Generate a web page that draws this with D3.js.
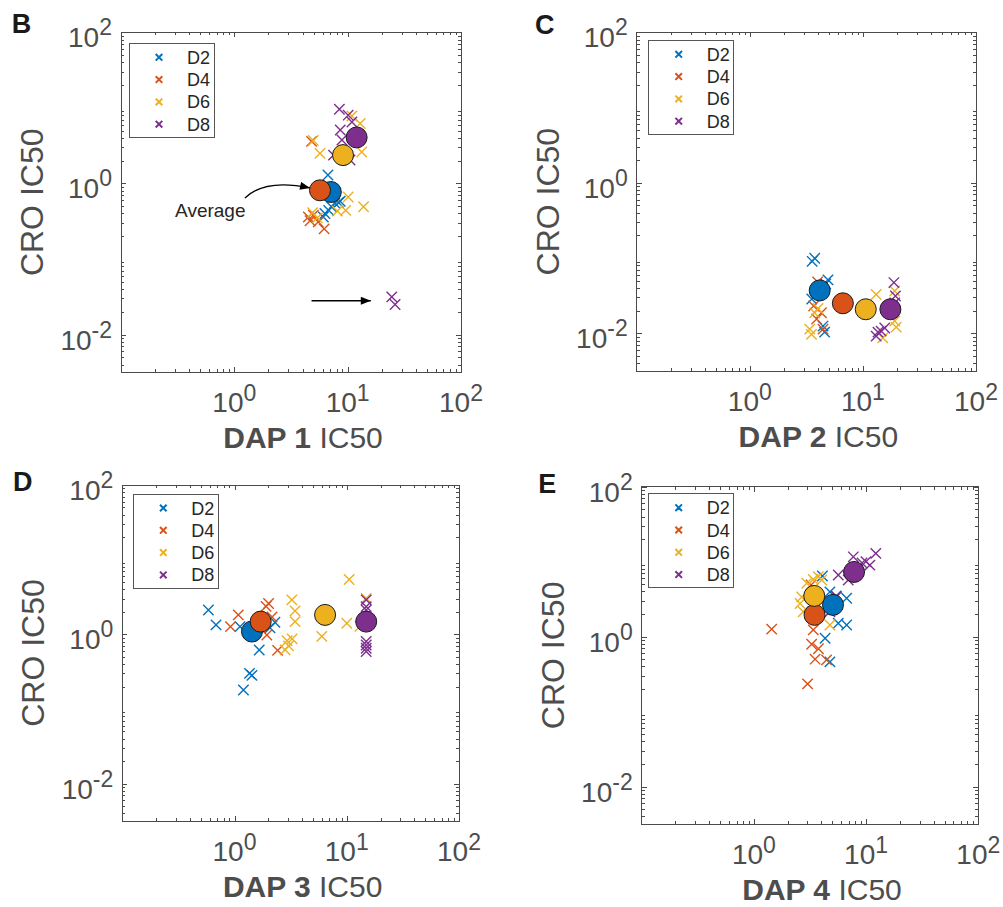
<!DOCTYPE html>
<html><head><meta charset="utf-8">
<script src="https://cdn.jsdelivr.net/npm/d3@7"></script>
<style>body{margin:0;background:#fff}</style>
</head><body><svg id="c" width="1003" height="907"></svg>
<script>
// ---------------- data ----------------
const seriesNames = ["D2", "D4", "D6", "D8"];
const seriesColors = ["#0072BD", "#D95319", "#EDB120", "#7E2F8E"];
const panelLetters = ["B", "C", "D", "E"];
const xLabelBold = ["DAP 1", "DAP 2", "DAP 3", "DAP 4"];
const xMajorTicks = [1, 10, 100];
const xTickExp = ["0", "1", "2"];
const yMajorTicks = [0.01, 1, 100];
const yTickExp = ["-2", "0", "2"];

// Panel B : DAP 1 vs CRO  [DAP IC50, CRO IC50]
const dap1_D2 = [[6.7,1.29],[8.6,0.58],[7.2,0.49],[6.8,0.44],[6.3,0.40],[6.1,0.36],[7.7,0.55],[8.3,0.56]];
const dap1_D4 = [[4.8,3.6],[4.66,0.32],[4.98,0.38],[6.2,0.25],[5.5,0.31],[4.5,0.36]];
const dap1_D6 = [[4.98,3.7],[5.7,2.5],[10.9,7.8],[12.9,6.2],[13.3,2.6],[10.1,0.66],[9.6,0.44],[8.1,0.43],[13.8,0.49],[4.9,0.41],[5.4,0.35]];
const dap1_D8 = [[8.45,9.6],[10.1,8.0],[10.9,6.5],[8.6,5.1],[8.9,3.75],[7.5,2.37],[10.5,2.04],[24.5,0.0315],[26.2,0.025]];
const dap1_avg = [[7.1,0.77],[5.7,0.81],[9.1,2.37],[12.0,4.06]];

// Panel C : DAP 2 vs CRO
const dap2_D2 = [[3.56,0.0906],[3.75,0.0994],[4.91,0.0514],[4.69,0.0454],[4.44,0.0125],[4.59,0.0104],[3.53,0.0286]];
const dap2_D4 = [[3.98,0.0483],[3.67,0.0231],[4.30,0.0188],[4.44,0.0114],[3.90,0.0155]];
const dap2_D6 = [[3.39,0.0114],[3.51,0.0097],[4.01,0.0214],[3.75,0.0187],[13.1,0.0329],[19.1,0.0366],[19.1,0.0146],[19.7,0.0121],[15.0,0.0087]];
const dap2_D8 = [[18.8,0.0473],[19.4,0.0314],[19.1,0.0253],[13.1,0.0092],[14.5,0.0107],[15.6,0.0118],[13.6,0.0104]];
const dap2_avg = [[4.15,0.0372],[6.65,0.0251],[10.6,0.0209],[17.5,0.0209]];

// Panel D : DAP 3 vs CRO
const dap3_D2 = [[0.585,2.12],[0.684,1.34],[1.12,1.27],[1.20,0.180],[1.36,0.300],[1.43,0.282],[1.66,0.618],[2.29,1.45],[2.07,1.22]];
const dap3_D4 = [[1.08,1.82],[0.92,1.27],[1.91,2.37],[2.01,2.59],[1.94,0.98],[2.42,0.61],[2.16,1.71]];
const dap3_D6 = [[3.24,2.89],[3.46,2.06],[3.46,1.48],[2.94,0.82],[3.26,0.87],[2.82,0.62],[3.03,0.70],[5.99,0.94],[10.0,1.41],[10.5,5.43],[14.9,3.03],[13.1,1.28]];
const dap3_D8 = [[14.9,2.89],[14.9,2.35],[14.9,2.12],[14.9,0.80],[14.9,0.72],[14.9,0.65],[14.9,0.59]];
const dap3_avg = [[1.43,1.09],[1.71,1.48],[6.41,1.82],[14.9,1.48]];

// Panel E : DAP 4 vs CRO
const dap4_D2 = [[4.08,6.44],[4.76,3.95],[6.71,3.25],[5.65,1.51],[6.71,1.43],[4.31,0.95],[4.76,0.46],[5.4,3.49]];
const dap4_D4 = [[1.44,1.26],[3.38,1.23],[3.27,0.79],[3.76,0.69],[3.51,0.50],[4.44,0.49],[3.01,0.234],[3.23,4.88]];
const dap4_D6 = [[2.96,5.15],[3.38,5.80],[3.75,6.31],[4.02,5.70],[2.67,3.38],[2.58,2.77],[2.75,2.15],[4.76,1.43]];
const dap4_D8 = [[7.69,11.6],[12.2,12.9],[9.97,10.0],[10.8,9.0],[9.2,9.6],[5.65,6.65],[6.93,5.70],[5.46,3.41],[4.76,2.15]];
const dap4_avg = [[5.07,2.65],[3.47,1.95],[3.45,3.49],[7.81,7.29]];

// annotations in panel B (data coordinates)
const avgArrow = [[1.24,0.64],[1.87,1.17],[4.66,0.87]];
const outlierArrow = [[4.8,0.028],[16,0.028]];
const avgLabelPos = [0.30, 0.36];
const avgLabelText = "Average";

// ---------------- layout ----------------
const xDomain = [0.1, 100];
const yDomain = [Math.pow(10, -2.5), 100];
const boxes = [[121,32.3,340,340],[636.7,32.3,339.3,338.7],[122.3,485,336.7,336],[641.7,486.7,336.6,337.3]];
const legendOff = [[8,11],[12,8],[11,9],[7,7]];
const letterPos = [[11.7,32.7],[535,34],[13,490.7],[538.3,493.3]];
const FONT = "'Liberation Sans', Arial, Helvetica, sans-serif";
const AXC = "#4a4a4a", TXC = "#4d4d4d";

const panels = [
  {series:[dap1_D2,dap1_D4,dap1_D6,dap1_D8], avg:dap1_avg},
  {series:[dap2_D2,dap2_D4,dap2_D6,dap2_D8], avg:dap2_avg},
  {series:[dap3_D2,dap3_D4,dap3_D6,dap3_D8], avg:dap3_avg},
  {series:[dap4_D2,dap4_D4,dap4_D6,dap4_D8], avg:dap4_avg}
];

const svg = d3.select("#c");
svg.append("defs").append("marker").attr("id","ah")
  .attr("viewBox","0 0 10 8").attr("refX",10).attr("refY",4)
  .attr("markerWidth",11).attr("markerHeight",8).attr("markerUnits","userSpaceOnUse")
  .attr("orient","auto")
  .append("path").attr("d","M0,0 L10,4 L0,8 Z").attr("fill","#000");

const isPow10 = v => Math.abs(Math.log10(v) - Math.round(Math.log10(v))) < 1e-6;
const xMark = s => `M${-s},${-s}L${s},${s}M${-s},${s}L${s},${-s}`;

panels.forEach((p, pi) => {
  const [x0, y0, w, h] = boxes[pi];
  const x = d3.scaleLog().domain(xDomain).range([x0, x0 + w]);
  const y = d3.scaleLog().domain(yDomain).range([y0 + h, y0]);
  const g = svg.append("g");

  // box
  g.append("rect").attr("x", x0).attr("y", y0).attr("width", w).attr("height", h)
    .attr("fill", "#fff").attr("stroke", AXC).attr("stroke-width", 1).attr("shape-rendering","crispEdges");

  // ticks (inward, all four sides)
  const xMinor = x.ticks().filter(v => !isPow10(v));
  const yMinor = y.ticks().filter(v => !isPow10(v));
  const axes = [
    [d3.axisBottom(x), `translate(0,${y0 + h})`, xMajorTicks, xMinor],
    [d3.axisTop(x), `translate(0,${y0})`, xMajorTicks, xMinor],
    [d3.axisLeft(y), `translate(${x0},0)`, yMajorTicks, yMinor],
    [d3.axisRight(y), `translate(${x0 + w},0)`, yMajorTicks, yMinor]
  ];
  axes.forEach(([gen, tr, maj, min]) => {
    [[maj, -5], [min, -3]].forEach(([vals, len]) => {
      const ax = g.append("g").attr("transform", tr)
        .call(gen.tickValues(vals).tickSizeInner(len).tickSizeOuter(0).tickFormat(""));
      ax.select(".domain").remove();
      ax.selectAll("line").attr("stroke", AXC).attr("shape-rendering","crispEdges");
    });
  });

  // tick labels with superscripts
  xMajorTicks.forEach((v, i) => {
    const t = g.append("text").attr("x", x(v)).attr("y", y0 + h + 39.5)
      .attr("text-anchor", "middle").attr("font-family", FONT).attr("fill", TXC).attr("font-size", 28);
    t.append("tspan").text("10");
    t.append("tspan").attr("dy", -11).attr("font-size", 23).text(xTickExp[i]);
  });
  yMajorTicks.forEach((v, i) => {
    const t = g.append("text").attr("x", x0 - 9).attr("y", y(v) + 15)
      .attr("text-anchor", "end").attr("font-family", FONT).attr("fill", TXC).attr("font-size", 28);
    t.append("tspan").text("10");
    t.append("tspan").attr("dy", -12).attr("font-size", 23).text(yTickExp[i]);
  });

  // axis labels
  const xl = g.append("text").attr("x", x0 + w / 2 + 12).attr("y", y0 + h + 76)
    .attr("text-anchor", "middle").attr("font-family", FONT).attr("fill", TXC).attr("font-size", 30);
  xl.append("tspan").attr("font-weight", "bold").text(xLabelBold[pi]);
  xl.append("tspan").text(" IC50");
  g.append("text").attr("transform", `translate(${x0 - 78},${y0 + h / 2}) rotate(-90)`)
    .attr("text-anchor", "middle").attr("font-family", FONT).attr("fill", TXC).attr("font-size", 32)
    .text("CRO IC50");

  // panel letter
  g.append("text").attr("x", letterPos[pi][0]).attr("y", letterPos[pi][1])
    .attr("font-family", FONT).attr("font-weight", "bold").attr("font-size", 27).attr("fill", "#1a1a1a")
    .text(panelLetters[pi]);

  // points
  p.series.forEach((pts, si) => {
    g.append("g").selectAll("path").data(pts).join("path")
      .attr("transform", d => `translate(${x(d[0])},${y(d[1])})`)
      .attr("d", xMark(5.2)).attr("fill", "none")
      .attr("stroke", seriesColors[si]).attr("stroke-width", 1.4);
  });
  // averages
  g.append("g").selectAll("circle").data(p.avg).join("circle")
    .attr("cx", d => x(d[0])).attr("cy", d => y(d[1])).attr("r", 10.5)
    .attr("fill", (d, i) => seriesColors[i]).attr("stroke", "#1a1a1a").attr("stroke-width", 1);

  // legend
  const lx = x0 + legendOff[pi][0], ly = y0 + legendOff[pi][1];
  g.append("rect").attr("x", lx).attr("y", ly).attr("width", 85).attr("height", 94)
    .attr("fill", "#fff").attr("stroke", "#555").attr("stroke-width", 1).attr("shape-rendering","crispEdges");
  seriesNames.forEach((n, si) => {
    const ry = ly + 14 + si * 22.3;
    g.append("path").attr("transform", `translate(${lx + 30},${ry})`).attr("d", xMark(3.3))
      .attr("stroke", seriesColors[si]).attr("stroke-width", 2).attr("fill", "none");
    g.append("text").attr("x", lx + 58).attr("y", ry + 6.5).attr("font-family", FONT)
      .attr("font-size", 18).attr("fill", "#262626").text(n);
  });

  // annotations (panel B only)
  if (pi === 0) {
    const s = avgArrow.map(d => [x(d[0]), y(d[1])]);
    g.append("path").attr("d", `M${s[0][0]},${s[0][1]}Q${s[1][0]},${s[1][1]} ${s[2][0]},${s[2][1]}`)
      .attr("fill", "none").attr("stroke", "#000").attr("stroke-width", 1.3).attr("marker-end", "url(#ah)");
    const o = outlierArrow.map(d => [x(d[0]), y(d[1])]);
    g.append("path").attr("d", `M${o[0][0]},${o[0][1]}L${o[1][0]},${o[1][1]}`)
      .attr("fill", "none").attr("stroke", "#000").attr("stroke-width", 1.3).attr("marker-end", "url(#ah)");
    g.append("text").attr("x", x(avgLabelPos[0])).attr("y", y(avgLabelPos[1]))
      .attr("font-family", FONT).attr("font-size", 19).attr("fill", "#262626").text(avgLabelText);
  }
});
</script></body></html>
